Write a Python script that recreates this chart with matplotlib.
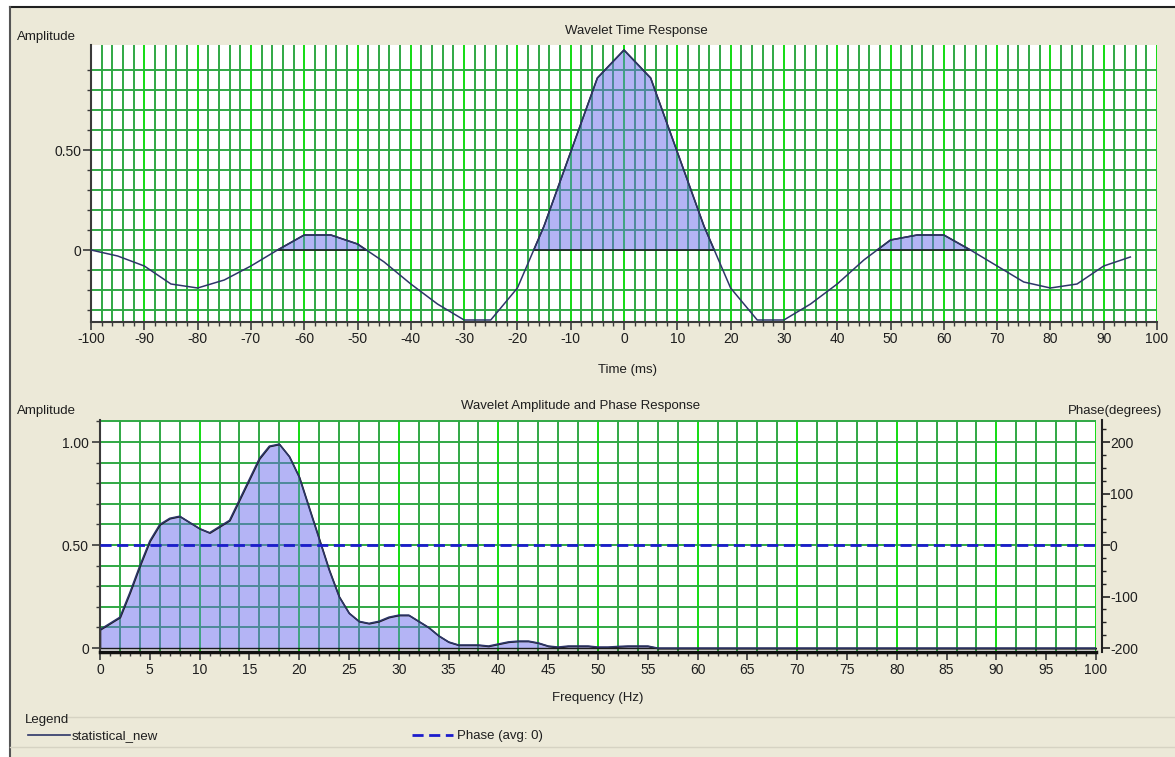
import numpy as np
import matplotlib
matplotlib.use('Agg')
import matplotlib.pyplot as plt
from matplotlib.ticker import MultipleLocator, FixedLocator, FuncFormatter
from matplotlib.patches import Rectangle
from matplotlib.lines import Line2D

plt.rcParams['font.family'] = ['Liberation Sans', 'DejaVu Sans']
plt.rcParams['axes.unicode_minus'] = False

# wavelet time response (ms, amplitude)
time_ms = [-100, -95, -90, -85, -80, -75, -70, -65, -60, -55,
           -50, -45, -40, -35, -30, -25, -20, -15, -10, -5,
           0, 5, 10, 15, 20, 25, 30, 35, 40, 45,
           50, 55, 60, 65, 70, 75, 80, 85, 90, 95]
time_amp = [0.0, -0.03, -0.08, -0.17, -0.19, -0.15, -0.08, 0.0, 0.075, 0.075,
            0.03, -0.06, -0.17, -0.27, -0.35, -0.35, -0.19, 0.12, 0.49, 0.86,
            1.0, 0.86, 0.49, 0.12, -0.19, -0.35, -0.35, -0.27, -0.17, -0.05,
            0.05, 0.075, 0.075, 0.0, -0.08, -0.16, -0.19, -0.17, -0.08, -0.035]

# amplitude spectrum (Hz, normalised amplitude)
freq_hz = [0, 1, 2, 3, 4, 5, 6, 7, 8, 9,
           10, 11, 12, 13, 14, 15, 16, 17, 18, 19,
           20, 21, 22, 23, 24, 25, 26, 27, 28, 29,
           30, 31, 32, 33, 34, 35, 36, 37, 38, 39,
           40, 41, 42, 43, 44, 45, 46, 47, 48, 49,
           50, 51, 52, 53, 54, 55, 56, 100]
freq_amp = [0.09, 0.12, 0.15, 0.27, 0.40, 0.52, 0.60, 0.63, 0.64, 0.61,
            0.58, 0.56, 0.59, 0.62, 0.72, 0.82, 0.92, 0.98, 0.99, 0.93,
            0.83, 0.68, 0.53, 0.38, 0.25, 0.17, 0.13, 0.12, 0.13, 0.15,
            0.16, 0.16, 0.13, 0.10, 0.06, 0.03, 0.015, 0.015, 0.015, 0.01,
            0.02, 0.03, 0.034, 0.034, 0.025, 0.01, 0.005, 0.01, 0.01, 0.01,
            0.005, 0.005, 0.008, 0.01, 0.01, 0.01, 0.0, 0.0]

# phase response (degrees)
phase_hz = [0, 100]
phase_deg = [0, 0]

W, H = 1175, 757
bg = '#ece9d8'
line_col = '#2d3568'
fill_face = (0.42, 0.42, 0.93, 0.5)
grid_major = '#12dc12'
grid_minor = '#30a844'
txt = '#1e1e1e'

fig = plt.figure(figsize=(W / 100, H / 100), dpi=100, facecolor='white')
fig.patches.append(Rectangle((10 / W, 0), 1 - 10 / W, 1 - 7 / H, transform=fig.transFigure,
                             facecolor=bg, edgecolor='none', zorder=-10))
fig.lines.append(Line2D([10 / W, 1], [1 - 7 / H, 1 - 7 / H], transform=fig.transFigure,
                        color='#202020', lw=1.5))
fig.lines.append(Line2D([10 / W, 10 / W], [0, 1 - 7 / H], transform=fig.transFigure,
                        color='#555555', lw=1.5))


def px_axes(x0, y0, x1, y1):
    return fig.add_axes([x0 / W, 1 - y1 / H, (x1 - x0) / W, (y1 - y0) / H])


def ftext(x, y, s, **kw):
    fig.text(x / W, 1 - y / H, s, color=txt, fontsize=9.5, va='center', **kw)


def amp_fmt(v, pos):
    return '0' if abs(v) < 1e-9 else '%.2f' % v


# ---- top: time response
ax1 = px_axes(91, 45, 1157, 322)
ax1.set_xlim(-100, 100)
ax1.set_ylim(-0.36, 1.025)
for g in range(-100, 101, 2):
    ax1.axvline(g, color=grid_major if g % 10 == 0 else grid_minor, lw=1.4, zorder=0.5)
for g in np.arange(-0.3, 0.95, 0.1):
    ax1.axhline(g, color=grid_minor, lw=1.4, zorder=0.5)

t = np.array(time_ms)
a = np.array(time_amp)
ax1.fill_between(t, a, 0, where=a > 0, interpolate=True, facecolor=fill_face,
                 edgecolor='#1a1a1a', linewidth=1.1, zorder=2)
ax1.plot(t, a, color=line_col, lw=1.1, zorder=3)

ax1.xaxis.set_major_locator(MultipleLocator(10))
ax1.xaxis.set_minor_locator(MultipleLocator(2))
ax1.yaxis.set_major_locator(FixedLocator([0, 0.5]))
ax1.yaxis.set_minor_locator(FixedLocator(np.arange(-0.3, 0.95, 0.1)))
ax1.yaxis.set_major_formatter(FuncFormatter(amp_fmt))
for s in ['top', 'right']:
    ax1.spines[s].set_visible(False)
for s in ['left', 'bottom']:
    ax1.spines[s].set_color('#3a3a3a')
    ax1.spines[s].set_linewidth(1.5)
ax1.tick_params(which='major', direction='out', length=6, width=1.2, color='#3a3a3a',
                labelsize=10, labelcolor=txt, pad=1)
ax1.tick_params(which='minor', direction='out', length=3, width=1, color='#3a3a3a')

ftext(17, 37, 'Amplitude', ha='left')
ftext(636, 31, 'Wavelet Time Response', ha='center')
ftext(628, 370, 'Time (ms)', ha='center')

# ---- bottom: amplitude and phase response
ax2 = px_axes(100, 420, 1096, 652)
ax2.set_xlim(0, 100)
ax2.set_ylim(-0.019, 1.107)
for g in range(0, 101, 2):
    ax2.axvline(g, color=grid_major if g % 10 == 0 else grid_minor, lw=1.4, zorder=0.5)
for g in np.arange(0.1, 1.15, 0.1):
    ax2.axhline(g, color=grid_minor, lw=1.4, zorder=0.5)

f = np.array(freq_hz)
fa = np.array(freq_amp)
ax2.fill_between(f, fa, 0, facecolor=fill_face, edgecolor='#1a1a1a', linewidth=1.1, zorder=2)
ax2.plot(f, fa, color=line_col, lw=1.1, zorder=3)

ax2.xaxis.set_major_locator(MultipleLocator(5))
ax2.xaxis.set_minor_locator(MultipleLocator(1))
ax2.yaxis.set_major_locator(FixedLocator([0, 0.5, 1.0]))
ax2.yaxis.set_minor_locator(FixedLocator(np.arange(0.1, 1.15, 0.1)))
ax2.yaxis.set_major_formatter(FuncFormatter(amp_fmt))
for s in ['top', 'right']:
    ax2.spines[s].set_visible(False)
ax2.spines['left'].set_color('#3a3a3a')
ax2.spines['left'].set_linewidth(1.5)
ax2.spines['bottom'].set_color('#101010')
ax2.spines['bottom'].set_linewidth(2.5)
ax2.tick_params(which='major', direction='out', length=6, width=1.2, color='#3a3a3a',
                labelsize=10, labelcolor=txt, pad=2)
ax2.tick_params(which='minor', direction='out', length=3, width=1, color='#3a3a3a')

ax3 = ax2.twinx()
ax3.set_ylim(-207.6, 242.8)
ax3.plot(phase_hz, phase_deg, color='#1c1ccc', lw=2, dashes=(4, 2), zorder=4)
ax3.yaxis.set_major_locator(MultipleLocator(100))
ax3.yaxis.set_minor_locator(MultipleLocator(25))
for s in ['top', 'left', 'bottom']:
    ax3.spines[s].set_visible(False)
ax3.spines['right'].set_color('#202020')
ax3.spines['right'].set_linewidth(1.5)
ax3.spines['right'].set_position(('outward', 4))
ax3.tick_params(which='major', direction='out', length=6, width=1.2, color='#202020',
                labelsize=10, labelcolor=txt, pad=0)
ax3.tick_params(which='minor', direction='out', length=3, width=1, color='#202020')

ftext(17, 411, 'Amplitude', ha='left')
ftext(581, 406, 'Wavelet Amplitude and Phase Response', ha='center')
ftext(1162, 411, 'Phase(degrees)', ha='right')
ftext(598, 698, 'Frequency (Hz)', ha='center')

# ---- legend strip
fig.lines.append(Line2D([68 / W, 1], [1 - 717 / H] * 2, transform=fig.transFigure,
                        color='#d6d3c3', lw=1))
fig.lines.append(Line2D([10 / W, 1], [1 - 747 / H] * 2, transform=fig.transFigure,
                        color='#d6d3c3', lw=1))
ftext(25, 720, 'Legend', ha='left')
fig.lines.append(Line2D([28 / W, 70 / W], [1 - 735 / H] * 2, transform=fig.transFigure,
                        color=line_col, lw=1.2))
ftext(72, 736, 'statistical_new', ha='left')
fig.lines.append(Line2D([412 / W, 453 / W], [1 - 735 / H] * 2, transform=fig.transFigure,
                        color='#1c1ccc', lw=2, dashes=(4, 2)))
ftext(457, 736, 'Phase (avg: 0)', ha='left')

fig.savefig('out.png', dpi=100, facecolor=fig.get_facecolor())
